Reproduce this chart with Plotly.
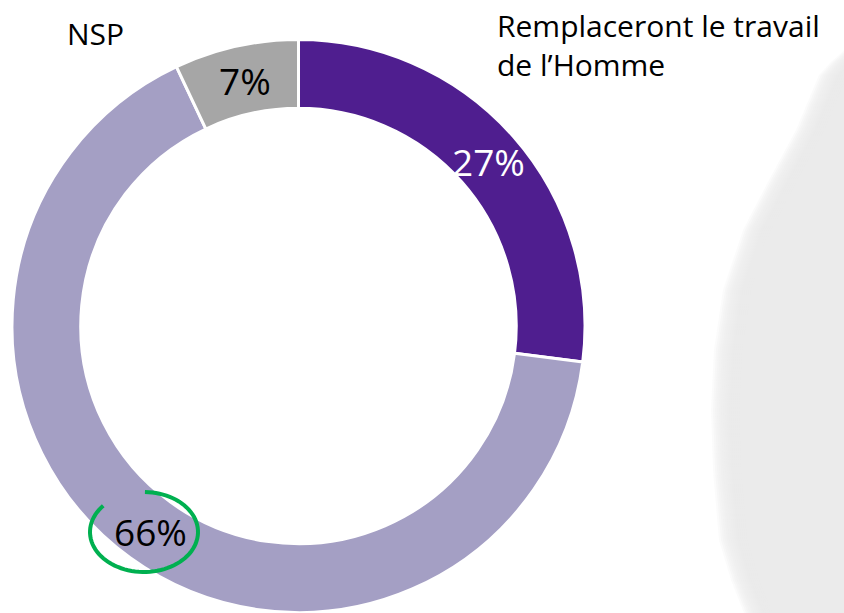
import numpy as np
import plotly.graph_objects as go

W, H = 844, 613

# Survey answers (percent)
labels = ["Remplaceront le travail de l’Homme", "Autre", "NSP"]
values = [27, 66, 7]
colors = ["#4F1E8F", "#A49FC4", "#A6A6A6"]

FONT = "Open Sans"


def px(x):
    return x / W


def py(y):
    return 1 - y / H


fig = go.Figure()

fig.add_trace(go.Pie(
    labels=labels,
    values=values,
    marker=dict(colors=colors, line=dict(color="white", width=3)),
    hole=0.76,
    sort=False,
    direction="clockwise",
    rotation=0,
    textinfo="none",
    hoverinfo="label+percent",
    showlegend=False,
    domain=dict(x=[px(12), px(585)], y=[py(612.5), py(39.5)]),
))

# Soft grey disc at the right edge, built from stacked translucent copies
edge = [(870, 40), (845, 62), (833, 75), (810, 130), (783, 180), (757, 230),
        (737, 290), (728, 350), (725, 410), (727, 470), (733, 540),
        (745, 580), (758, 613), (762, 640), (900, 640), (900, 40)]
for dx in np.linspace(-14, 14, 15):
    pts = [(x + dx, y) for x, y in edge]
    path = "M " + " L ".join(f"{px(x):.5f},{py(y):.5f}" for x, y in pts) + " Z"
    fig.add_shape(type="path", path=path, xref="paper", yref="paper",
                  fillcolor="rgba(237,237,237,0.2)", line=dict(width=0),
                  layer="below")

# Value labels, text taken from the data
label_pos = [(488, 161, "white"), (150, 531, "black"), (245, 81, "black")]
for v, (x, y, c) in zip(values, label_pos):
    fig.add_annotation(x=px(x), y=py(y), xref="paper", yref="paper",
                       text=f"{v}%", showarrow=False,
                       xanchor="center", yanchor="middle",
                       font=dict(family=FONT, size=37, color=c))

# Category names
fig.add_annotation(x=px(495), y=py(45), xref="paper", yref="paper",
                   text="Remplaceront le travail<br>de l’Homme", showarrow=False,
                   xanchor="left", yanchor="middle", align="left",
                   font=dict(family=FONT, size=30, color="black"))
fig.add_annotation(x=px(95), y=py(33), xref="paper", yref="paper",
                   text="NSP", showarrow=False,
                   xanchor="center", yanchor="middle",
                   font=dict(family=FONT, size=30, color="black"))

# Green highlight ring around the majority share, open at the upper left
cx, cy, rx, ry = 144, 532, 54, 40
t = np.radians(np.linspace(-89, 221, 80))
ring = [(cx + rx * np.cos(a), cy + ry * np.sin(a)) for a in t]
ring_path = "M " + " L ".join(f"{px(x):.5f},{py(y):.5f}" for x, y in ring)
fig.add_shape(type="path", path=ring_path, xref="paper", yref="paper",
              line=dict(color="#00B050", width=4), layer="above")

fig.update_layout(
    width=W, height=H,
    margin=dict(l=0, r=0, t=0, b=0),
    paper_bgcolor="white", plot_bgcolor="white",
)

fig.write_html("out.html")
